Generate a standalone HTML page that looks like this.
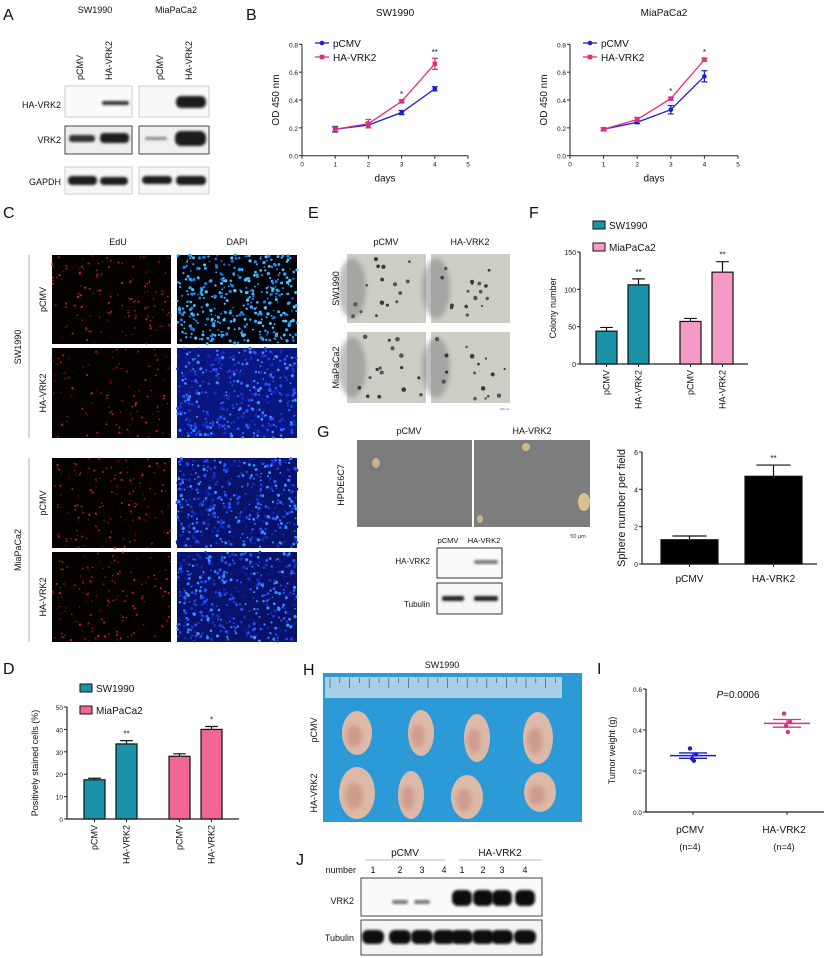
<!DOCTYPE html>
<html><head><meta charset="utf-8">
<style>
html,body{margin:0;padding:0;background:#fff;}
svg{display:block;font-family:"Liberation Sans",Arial,sans-serif;}
</style></head>
<body>
<svg id="fig" width="824" height="958" viewBox="0 0 824 958" xmlns="http://www.w3.org/2000/svg">
<defs>
<filter id="blur1" x="-20%" y="-50%" width="140%" height="200%"><feGaussianBlur stdDeviation="1.2"/></filter>
<filter id="blur2" x="-20%" y="-20%" width="140%" height="140%"><feGaussianBlur stdDeviation="2"/></filter>
</defs>

<g font-size="16" fill="#111">
<text x="3" y="20">A</text>
<text x="246" y="20">B</text>
<text x="3" y="218">C</text>
<text x="308" y="218">E</text>
<text x="529" y="218">F</text>
<text x="317" y="437">G</text>
<text x="3" y="674">D</text>
<text x="303" y="675">H</text>
<text x="597" y="674">I</text>
<text x="296" y="865">J</text>
</g>

<g id="panelA" font-size="9" fill="#111">
<text x="95" y="13" text-anchor="middle">SW1990</text>
<text x="176" y="13" text-anchor="middle">MiaPaCa2</text>
<text transform="translate(83,80) rotate(-90)">pCMV</text>
<text transform="translate(112,80) rotate(-90)">HA-VRK2</text>
<text transform="translate(163,80) rotate(-90)">pCMV</text>
<text transform="translate(192,80) rotate(-90)">HA-VRK2</text>
<text x="61" y="108" text-anchor="end">HA-VRK2</text>
<text x="61" y="143" text-anchor="end">VRK2</text>
<text x="61" y="185" text-anchor="end">GAPDH</text>
<rect x="65" y="86" width="67" height="31" fill="#fafafa" stroke="#ccc"/>
<rect x="139" y="86" width="70" height="31" fill="#f8f8f8" stroke="#ccc"/>
<rect x="65" y="126" width="67" height="28" fill="#eee" stroke="#444"/>
<rect x="139" y="126" width="70" height="28" fill="#f0f0f0" stroke="#444"/>
<rect x="65" y="167" width="67" height="27" fill="#f6f6f6" stroke="#ccc"/>
<rect x="139" y="167" width="70" height="27" fill="#f6f6f6" stroke="#ccc"/>
<g fill="#1a1a1a" filter="url(#blur1)">
<rect x="102" y="101" width="27" height="4" rx="2" fill="#333"/>
<rect x="176" y="96" width="30" height="12" rx="5"/>
<rect x="69" y="135" width="26" height="7" rx="3" fill="#333"/>
<rect x="100" y="133" width="29" height="10" rx="4"/>
<rect x="145" y="137" width="22" height="3" rx="1" fill="#888"/>
<rect x="175" y="131" width="31" height="15" rx="6"/>
<rect x="68" y="176" width="29" height="9" rx="4"/>
<rect x="100" y="177" width="28" height="8" rx="4"/>
<rect x="142" y="176" width="30" height="8" rx="4"/>
<rect x="176" y="176" width="30" height="9" rx="4"/>
</g>
</g>

<g id="panelB"></g>
<g id="panelC"></g>
<g id="panelE"></g>
<g id="panelF"></g>
<g id="panelG"></g>
<g id="panelD"></g>
<g id="panelH"></g>
<g id="panelI"></g>

<g id="panelJ" font-size="9" fill="#111">
<text x="405" y="856" text-anchor="middle" font-size="10">pCMV</text>
<text x="500" y="856" text-anchor="middle" font-size="10">HA-VRK2</text>
<line x1="365" y1="860" x2="445" y2="860" stroke="#bbb"/>
<line x1="459" y1="860" x2="542" y2="860" stroke="#bbb"/>
<text x="356" y="873" text-anchor="end">number</text>
<rect x="361" y="878" width="181" height="38" fill="#fafafa" stroke="#444"/>
<rect x="361" y="920" width="181" height="35" fill="#f4f4f4" stroke="#444"/>
<text x="354" y="904" text-anchor="end">VRK2</text>
<text x="354" y="941" text-anchor="end">Tubulin</text>
</g>
</svg>

<script>
const NS='http://www.w3.org/2000/svg';
function mk(p,tag,a){const e=document.createElementNS(NS,tag);for(const k in a)e.setAttribute(k,a[k]);p.appendChild(e);return e;}
function txt(p,x,y,s,a){const e=mk(p,'text',Object.assign({x:x,y:y},a||{}));e.textContent=s;return e;}

/* ---------- Panel B data ---------- */
const bDays=[1,2,3,4];
const bXTicks=[0,1,2,3,4,5];
const bYTicks=[0,0.2,0.4,0.6,0.8];
const swPcmv=[0.19,0.22,0.31,0.48];
const swPcmvErr=[0.02,0.02,0.015,0.015];
const swHa=[0.19,0.23,0.39,0.66];
const swHaErr=[0.015,0.03,0.01,0.04];
const swStars=['','','*','**'];
const miaPcmv=[0.19,0.24,0.33,0.57];
const miaPcmvErr=[0.01,0.01,0.03,0.04];
const miaHa=[0.19,0.26,0.41,0.69];
const miaHaErr=[0.01,0.015,0.01,0.01];
const miaStars=['','','*','*'];
const bSeriesNames=['pCMV','HA-VRK2'];

/* ---------- Panel F data ---------- */
const fCats=['pCMV','HA-VRK2','pCMV','HA-VRK2'];
const fVals=[44,106,57,123];
const fErr=[5,8,4,14];
const fStars=['','**','','**'];
const fYTicks=[0,50,100,150];
const fLegend=['SW1990','MiaPaCa2'];

/* ---------- Panel D data ---------- */
const dCats=['pCMV','HA-VRK2','pCMV','HA-VRK2'];
const dVals=[17.5,33.5,28,40];
const dErr=[0.7,1.5,1.1,1.3];
const dStars=['','**','','*'];
const dYTicks=[0,10,20,30,40,50];
const dLegend=['SW1990','MiaPaCa2'];

/* ---------- Panel G data ---------- */
const gCats=['pCMV','HA-VRK2'];
const gVals=[1.3,4.7];
const gErr=[0.2,0.6];
const gStars=['','**'];
const gYTicks=[0,2,4,6];

/* ---------- Panel I data ---------- */
const iCats=['pCMV','HA-VRK2'];
const iNs=['(n=4)','(n=4)'];
const iPcmvPts=[0.31,0.28,0.26,0.25];
const iHaPts=[0.48,0.44,0.42,0.39];
const iYTicks=[0,0.2,0.4,0.6];

const BLUE='#1c1cc8', MAG='#e0307c', TEAL='#1b93a6', PINKF='#f59ac6', PINKD='#f26792';

function lineChart(g,title,px0,px5,py0,py8,s1,e1,s2,e2,stars,key){
  const sx=v=>px0+(px5-px0)*v/5, sy=v=>py0+(py8-py0)*v/0.8;
  const t=txt(g,(px0+px5)/2+10,16,title,{'text-anchor':'middle','font-size':10,fill:'#111'});
  
  
  const ax=mk(g,'path',{d:`M${px0},${py8}V${py0}H${px5}`,stroke:'#222',fill:'none','stroke-width':1});
  
  
  bYTicks.forEach(v=>{mk(g,'line',{x1:px0-3,x2:px0,y1:sy(v),y2:sy(v),stroke:'#222'});
    const l=txt(g,px0-4,sy(v)+3,v.toFixed(1),{'text-anchor':'end','font-size':6.5,fill:'#111'});
    
    });
  bXTicks.forEach(v=>{mk(g,'line',{x1:sx(v),x2:sx(v),y1:py0,y2:py0+3,stroke:'#222'});
    const l=txt(g,sx(v),py0+11,String(v),{'text-anchor':'middle','font-size':6.5,fill:'#111'});
    
    });
  const xl=txt(g,(px0+px5)/2,py0+26,'days',{'text-anchor':'middle','font-size':10,fill:'#111'});
  
  
  const yc=(py0+py8)/2;
  const yl=txt(g,0,0,'OD 450 nm',{'text-anchor':'middle','font-size':10,fill:'#111',transform:`translate(${px0-23},${yc}) rotate(-90)`});
  
  
  [[s1,e1,BLUE,'circle'],[s2,e2,MAG,'square']].forEach(([s,e,c,shape],k)=>{
    const pts=bDays.map((d,i)=>sx(d)+','+sy(s[i])).join(' ');
    const pl=mk(g,'polyline',{points:pts,fill:'none',stroke:c,'stroke-width':1.3});
    
    
    bDays.forEach((d,i)=>{
      const x=sx(d),y=sy(s[i]),yt=sy(s[i]+e[i]),yb=sy(s[i]-e[i]);
      mk(g,'path',{d:`M${x},${yt}V${yb}M${x-3},${yt}H${x+3}M${x-3},${yb}H${x+3}`,stroke:c,'stroke-width':1.2});
      const m=shape==='circle'?mk(g,'circle',{cx:x,cy:y,r:2.3,fill:c}):mk(g,'rect',{x:x-2.3,y:y-2.3,width:4.6,height:4.6,fill:c});
      
      
    });
  });
  bDays.forEach((d,i)=>{if(stars[i]){const st=txt(g,sx(d),sy(s2[i]+e2[i])-3,stars[i],{'text-anchor':'middle','font-size':8,fill:'#111'});
    
    }});
  bSeriesNames.forEach((n,k)=>{const ly=43+k*14,lx=px0+20,c=k?MAG:BLUE;
    mk(g,'line',{x1:lx-7,x2:lx+7,y1:ly,y2:ly,stroke:c,'stroke-width':1.3});
    if(k)mk(g,'rect',{x:lx-2.3,y:ly-2.3,width:4.6,height:4.6,fill:c});else mk(g,'circle',{cx:lx,cy:ly,r:2.3,fill:c});
    const lt=txt(g,lx+11,ly+4,n,{'font-size':10,fill:'#111'});
    
    });
}
const gB=document.getElementById('panelB');
lineChart(gB,'SW1990',302,468,155.7,44.3,swPcmv,swPcmvErr,swHa,swHaErr,swStars,'b-sw1990');
lineChart(gB,'MiaPaCa2',570,738,155.7,44.3,miaPcmv,miaPcmvErr,miaHa,miaHaErr,miaStars,'b-miapaca2');

function barChart(g,key,o,cats,vals,errs,stars,ticks,colors){
  const sy=v=>o.y0+(o.yTop-o.y0)*v/o.ymax;
  mk(g,'path',{d:`M${o.ax},${sy(o.ymax)}V${o.y0}H${o.axEnd}`,stroke:'#222',fill:'none','stroke-width':1.2});
  ticks.forEach(v=>{mk(g,'line',{x1:o.ax-3,x2:o.ax,y1:sy(v),y2:sy(v),stroke:'#222'});
    const l=txt(g,o.ax-4,sy(v)+3,String(v),{'text-anchor':'end','font-size':o.tf||7,fill:'#111'});
    
    });
  const yl=txt(g,0,0,o.ytitle,{'text-anchor':'middle','font-size':o.yf||9,fill:'#111',transform:`translate(${o.ytx},${(o.y0+sy(o.ymax))/2}) rotate(-90)`});
  
  
  cats.forEach((c,i)=>{
    const x=o.bx(i),w=o.bw,y=sy(vals[i]),cx=x+w/2;
    const b=mk(g,'rect',{x:x,y:y,width:w,height:o.y0-y,fill:colors[i],stroke:'#111','stroke-width':1.2});
    
    
    const ye=sy(vals[i]+errs[i]);
    mk(g,'path',{d:`M${cx},${y}V${ye}M${cx-w*0.3},${ye}H${cx+w*0.3}`,stroke:'#111','stroke-width':1.2});
    mk(g,'line',{x1:cx,x2:cx,y1:o.y0,y2:o.y0+3,stroke:'#222'});
    if(stars[i]){const s=txt(g,cx,ye-4,stars[i],{'text-anchor':'middle','font-size':8,fill:'#111'});
      
      }
    let l;
    if(o.rotLabels){l=txt(g,0,0,c,{'text-anchor':'end','font-size':o.lf||9,fill:'#111',transform:`translate(${cx+3},${o.y0+6}) rotate(-90)`});}
    else{l=txt(g,cx,o.y0+18,c,{'text-anchor':'middle','font-size':o.lf||10,fill:'#111'});}
    
    
  });
}
function legend(g,key,names,colors,x,y,dy,fs){
  names.forEach((n,k)=>{const r=mk(g,'rect',{x:x,y:y+k*dy-5,width:12,height:8,fill:colors[k],stroke:'#111','stroke-width':1});
    
    
    const t=txt(g,x+16,y+k*dy+3,n,{'font-size':fs,fill:'#111'});
    
    });
}
const gF=document.getElementById('panelF');
legend(gF,'f',fLegend,[TEAL,PINKF],593,226,22,10);
barChart(gF,'f',{ax:580,axEnd:748,y0:364,yTop:252,ymax:150,bw:21,bx:i=>596+i*32+(i>=2?20:0),ytitle:'Colony number',ytx:556,rotLabels:true,tf:7,yf:9,lf:9},
  fCats,fVals,fErr,fStars,fYTicks,[TEAL,TEAL,PINKF,PINKF]);

const gD=document.getElementById('panelD');
legend(gD,'d',dLegend,[TEAL,PINKD],80,689,22,10);
barChart(gD,'d',{ax:67,axEnd:239,y0:819,yTop:707,ymax:50,bw:21,bx:i=>84+i*32+(i>=2?21:0),ytitle:'Positively stained cells (%)',ytx:38,rotLabels:true,tf:6.5,yf:9,lf:9},
  dCats,dVals,dErr,dStars,dYTicks,[TEAL,TEAL,PINKD,PINKD]);

const gGchart=mk(document.getElementById('panelG'),'g',{});


barChart(gGchart,'g',{ax:642,axEnd:817,y0:564,yTop:452,ymax:6,bw:57,bx:i=>661+i*84,ytitle:'Sphere number per field',ytx:625,rotLabels:false,tf:7,yf:11,lf:10},
  gCats,gVals,gErr,gStars,gYTicks,['#000','#000']);

(function(){
  const g=document.getElementById('panelI');
  const ax=646,y0=812,yTop=689,ymax=0.6,sy=v=>y0+(yTop-y0)*v/ymax;
  const xs=[693,787];
  mk(g,'path',{d:`M${ax},${yTop}V${y0}H824`,stroke:'#222',fill:'none','stroke-width':1.2});
  iYTicks.forEach(v=>{mk(g,'line',{x1:ax-3,x2:ax,y1:sy(v),y2:sy(v),stroke:'#222'});
    const l=txt(g,ax-4,sy(v)+3,v.toFixed(1),{'text-anchor':'end','font-size':6.5,fill:'#111'});
    
    });
  const yl=txt(g,0,0,'Tumor weight (g)',{'text-anchor':'middle','font-size':9,fill:'#111',transform:`translate(615,${(y0+yTop)/2}) rotate(-90)`});
  
  
  const pt=mk(g,'text',{x:738,y:698,'text-anchor':'middle','font-size':10,fill:'#111'});
  const tp=mk(pt,'tspan',{'font-style':'italic'});
  tp.textContent='P';
  pt.appendChild(document.createTextNode('=0.0006'));
  
  
  [iPcmvPts,iHaPts].forEach((pts,k)=>{
    const c=k?MAG:BLUE,x=xs[k];
    const m=pts.reduce((a,b)=>a+b,0)/pts.length;
    const sd=Math.sqrt(pts.reduce((a,b)=>a+(b-m)*(b-m),0)/(pts.length-1)),se=sd/Math.sqrt(pts.length);
    pts.forEach((v,i)=>{const d=mk(g,'circle',{cx:x+(i%2?3:-3)*(i>1?0.3:1),cy:sy(v),r:2.2,fill:c});
      
      });
    const mean=mk(g,'line',{x1:x-23,x2:x+23,y1:sy(m),y2:sy(m),stroke:c,'stroke-width':1.5});
    
    
    mk(g,'path',{d:`M${x},${sy(m+se)}V${sy(m-se)}M${x-14},${sy(m+se)}H${x+14}M${x-14},${sy(m-se)}H${x+14}`,stroke:c,'stroke-width':1.3});
    mk(g,'line',{x1:x,x2:x,y1:y0,y2:y0+3,stroke:'#222'});
    const l=txt(g,x-3,y0+21,iCats[k],{'text-anchor':'middle','font-size':10,fill:'#111'});
    
    
    const n=txt(g,x-3,y0+38,iNs[k],{'text-anchor':'middle','font-size':9,fill:'#111'});
    
    
  });
})();

let seed=12345;function rnd(){seed=(seed*1103515245+12345)%2147483648;return seed/2147483648;}
function dots(g,x,y,w,h,n,r,colors){for(let i=0;i<n;i++){mk(g,'circle',{cx:x+rnd()*w,cy:y+rnd()*h,r:r*(0.6+rnd()*0.7),fill:colors[i%colors.length]});}}

(function(){
  const g=document.getElementById('panelC');
  const t1=txt(g,118,245,'EdU',{'text-anchor':'middle','font-size':9,fill:'#111'});
  
  
  const t2=txt(g,237,245,'DAPI',{'text-anchor':'middle','font-size':9,fill:'#111'});
  
  
  const rows=[[255,344],[348,438],[458,548],[552,642]];
  rows.forEach((r,i)=>{
    const h=r[1]-r[0];
    const red=mk(g,'rect',{x:52,y:r[0],width:119,height:h,fill:'#060101'});
    
    
    dots(g,52,r[0],119,h,i===1?100:140,0.9,['#b01818','#801010','#d02222']);
    const bg=i===0?'#02040a':(i===1?'#0a1680':'#081268');
    const bl=mk(g,'rect',{x:177,y:r[0],width:120,height:h,fill:bg});
    
    
    dots(g,177,r[0],120,h,i===0?420:500,1.3,i===0?['#30a8ff','#1e7ee8','#50c8ff']:['#2a50ff','#1530c0','#3a90ff','#0818a0']);
    const lab=txt(g,0,0,i%2?'HA-VRK2':'pCMV',{'text-anchor':'middle','font-size':9,fill:'#111',transform:`translate(46,${(r[0]+r[1])/2}) rotate(-90)`});
    
    
  });
  mk(g,'line',{x1:29,x2:29,y1:255,y2:438,stroke:'#ccc','stroke-width':1.5});
  mk(g,'line',{x1:29,x2:29,y1:458,y2:642,stroke:'#ccc','stroke-width':1.5});
  const s1=txt(g,0,0,'SW1990',{'text-anchor':'middle','font-size':9,fill:'#111',transform:'translate(21,347) rotate(-90)'});
  
  
  const s2=txt(g,0,0,'MiaPaCa2',{'text-anchor':'middle','font-size':9,fill:'#111',transform:'translate(21,550) rotate(-90)'});
  
  
})();

(function(){
  const g=document.getElementById('panelE');
  [['pCMV',386],['HA-VRK2',470]].forEach(([s,x])=>{const t=txt(g,x,245,s,{'text-anchor':'middle','font-size':9,fill:'#111'});
    
    });
  [[254,323,'SW1990'],[332,403,'MiaPaCa2']].forEach(([y1,y2,s])=>{
    [347,431].forEach(x=>{const r=mk(g,'rect',{x:x,y:y1,width:79,height:y2-y1,fill:'#cdcdc6'});
      
      
      mk(g,'ellipse',{cx:x+5,cy:y1+(y2-y1)*0.5,rx:14,ry:30,fill:'#7d7f80',opacity:0.5,filter:'url(#blur2)'});
      dots(g,x+4,y1+4,71,y2-y1-8,16,1.8,['#3a3a3a','#555']);});
    const t=txt(g,0,0,s,{'text-anchor':'middle','font-size':9,fill:'#111',transform:`translate(339,${(y1+y2)/2}) rotate(-90)`});
    
    
  });
  txt(g,505,410,'100 μm',{'text-anchor':'middle','font-size':3,fill:'#666'});
})();

(function(){
  const g=document.getElementById('panelG');
  [['pCMV',409],['HA-VRK2',532]].forEach(([s,x])=>{const t=txt(g,x,434,s,{'text-anchor':'middle','font-size':9,fill:'#111'});
    
    });
  const p1=mk(g,'rect',{x:357,y:440,width:115,height:87,fill:'#7b7b7b'});
  
  
  const p2=mk(g,'rect',{x:474,y:440,width:116,height:87,fill:'#7d7d7d'});
  
  
  mk(g,'ellipse',{cx:376,cy:463,rx:4,ry:5,fill:'#c8b48c'});
  mk(g,'ellipse',{cx:526,cy:447,rx:4,ry:4,fill:'#d0b888'});
  mk(g,'ellipse',{cx:480,cy:519,rx:3,ry:4,fill:'#c8b48c'});
  mk(g,'ellipse',{cx:584,cy:502,rx:6,ry:9,fill:'#d8c090'});
  const h=txt(g,0,0,'HPDE6C7',{'text-anchor':'middle','font-size':9,fill:'#111',transform:'translate(344,485) rotate(-90)'});
  
  
  txt(g,578,538,'50 μm',{'text-anchor':'middle','font-size':5.5,fill:'#333'});
  txt(g,448,543,'pCMV',{'text-anchor':'middle','font-size':7.5,fill:'#111'});
  txt(g,484,543,'HA-VRK2',{'text-anchor':'middle','font-size':7.5,fill:'#111'});
  const b1=mk(g,'rect',{x:437,y:548,width:65,height:30,fill:'#fafafa',stroke:'#333'});
  
  
  const b2=mk(g,'rect',{x:437,y:583,width:65,height:31,fill:'#f6f6f6',stroke:'#333'});
  
  
  mk(g,'rect',{x:474,y:560,width:24,height:4,rx:2,fill:'#777',filter:'url(#blur1)'});
  mk(g,'rect',{x:442,y:596,width:22,height:5,rx:2,fill:'#222',filter:'url(#blur1)'});
  mk(g,'rect',{x:474,y:596,width:24,height:5,rx:2,fill:'#222',filter:'url(#blur1)'});
  const l1=txt(g,430,564,'HA-VRK2',{'text-anchor':'end','font-size':8,fill:'#111'});
  
  
  const l2=txt(g,430,607,'Tubulin',{'text-anchor':'end','font-size':8,fill:'#111'});
  
  
})();

(function(){
  const g=document.getElementById('panelH');
  const t=txt(g,442,668,'SW1990',{'text-anchor':'middle','font-size':9,fill:'#111'});
  
  
  const bg=mk(g,'rect',{x:323,y:673,width:259,height:149,fill:'#2b9ad6'});
  
  
  const ru=mk(g,'rect',{x:325,y:677,width:237,height:21,fill:'#a9cfe4'});
  
  
  for(let i=0;i<24;i++)mk(g,'line',{x1:330+i*9.8,x2:330+i*9.8,y1:678,y2:i%2?683:688,stroke:'#345','stroke-width':0.6});
  [[357,733,15,22],[421,733,13,23],[477,738,13,24],[538,738,15,26],[357,793,18,26],[411,795,13,24],[467,797,16,22],[540,792,16,20]].forEach(([x,y,rx,ry],i)=>{
    const e=mk(g,'ellipse',{cx:x,cy:y,rx:rx,ry:ry,fill:'#dcb9a8'});
    
    
    mk(g,'ellipse',{cx:x-3,cy:y+3,rx:rx*0.5,ry:ry*0.5,fill:'#c8887c',opacity:0.6,filter:'url(#blur2)'});
  });
  const l1=txt(g,0,0,'pCMV',{'text-anchor':'middle','font-size':9,fill:'#111',transform:'translate(317,730) rotate(-90)'});
  
  
  const l2=txt(g,0,0,'HA-VRK2',{'text-anchor':'middle','font-size':9,fill:'#111',transform:'translate(317,793) rotate(-90)'});
  
  
})();

(function(){
  const g=document.getElementById('panelJ');
  const xs=[373,400,422,444,462,483,502,525];
  const labs=['1','2','3','4','1','2','3','4'];
  xs.forEach((x,i)=>{const t=txt(g,x,873,labs[i],{'text-anchor':'middle','font-size':9,fill:'#111'});
    
    
    if(i>=4)mk(g,'rect',{x:x-10,y:890,width:20,height:16,rx:6,fill:'#111',filter:'url(#blur1)'});
    else if(i===1||i===2)mk(g,'rect',{x:x-8,y:900,width:16,height:4,rx:2,fill:'#777',filter:'url(#blur1)'});
    mk(g,'rect',{x:x-11,y:930,width:22,height:14,rx:6,fill:'#111',filter:'url(#blur1)'});
  });
})();
</script>
</body></html>
